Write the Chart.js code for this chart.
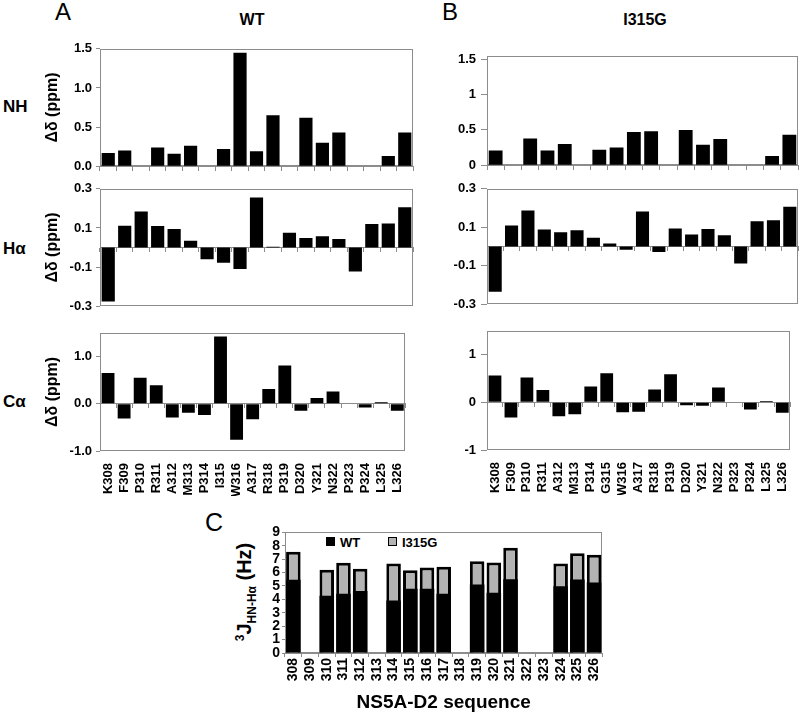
<!DOCTYPE html>
<html><head><meta charset="utf-8">
<script src="https://cdn.jsdelivr.net/npm/chart.js@4.4.1/dist/chart.umd.min.js"></script>
<style>
body{margin:0;background:#fff;width:800px;height:714px;position:relative;overflow:hidden;font-family:"Liberation Sans",Arial,sans-serif;}
canvas{position:absolute;}
.lbl{position:absolute;line-height:1;white-space:nowrap;color:#000;}
.b{font-weight:bold;}
</style></head><body>
<div class="lbl" style="left:55px;top:0px;font-size:24px;">A</div>
<div class="lbl" style="left:442px;top:0px;font-size:24px;">B</div>
<div class="lbl" style="left:205px;top:510px;font-size:25px;">C</div>
<div class="lbl b" style="left:252px;top:12px;font-size:16px;transform:translateX(-50%);">WT</div>
<div class="lbl b" style="left:645px;top:12px;font-size:16px;transform:translateX(-50%);">I315G</div>
<div class="lbl b" style="left:3px;top:98px;font-size:17px;">NH</div>
<div class="lbl b" style="left:3px;top:240px;font-size:17px;">Hα</div>
<div class="lbl b" style="left:3px;top:393px;font-size:17px;">Cα</div>
<div class="lbl b" style="left:246px;top:592px;font-size:20px;transform:translate(-50%,-50%) rotate(-90deg);"><sup style="font-size:12px;">3</sup>J<sub style="font-size:12px;">HN-Hα</sub> (Hz)</div>
<div id="legC" style="position:absolute;left:326px;top:536px;"></div>

<canvas id="aNH"></canvas><canvas id="aHa"></canvas><canvas id="aCa"></canvas>
<canvas id="bNH"></canvas><canvas id="bHa"></canvas><canvas id="bCa"></canvas>
<canvas id="cJ"></canvas>
<script>
// ---------- data ----------
const residuesWT = ['K308','F309','P310','R311','A312','M313','P314','I315','W316','A317','R318','P319','D320','Y321','N322','P323','P324','L325','L326'];
const residuesMut = ['K308','F309','P310','R311','A312','M313','P314','G315','W316','A317','R318','P319','D320','Y321','N322','P323','P324','L325','L326'];
const residuesMutNH = ['K308','P310','R311','A312','M313','P314','G315','W316','A317','R318','P319','D320','Y321','N322','P323','P324','L325','L326'];
const seqNumbers = ['308','309','310','311','312','313','314','315','316','317','318','319','320','321','322','323','324','325','326'];

const wtNH = [0.17,0.20,null,0.24,0.16,0.26,null,0.22,1.45,0.19,0.65,null,0.62,0.30,0.43,null,null,0.13,0.43];
const wtHa = [-0.276,0.111,0.184,0.110,0.095,0.035,-0.060,-0.078,-0.110,0.256,0.004,0.076,0.048,0.057,0.043,-0.123,0.120,0.123,0.206];
const wtCa = [0.65,-0.31,0.55,0.39,-0.29,-0.19,-0.24,1.42,-0.76,-0.33,0.31,0.81,-0.15,0.12,0.26,null,-0.08,0.03,-0.15];

const mutNH = [0.21,null,0.38,0.21,0.30,null,0.22,0.25,0.47,0.48,null,0.50,0.29,0.37,null,null,0.13,0.43];
const mutHa = [-0.235,0.109,0.187,0.088,0.074,0.084,0.045,0.015,-0.017,0.182,-0.028,0.093,0.063,0.091,0.058,-0.088,0.131,0.137,0.207];
const mutCa = [0.56,-0.32,0.52,0.26,-0.29,-0.25,0.33,0.61,-0.21,-0.20,0.27,0.59,-0.06,-0.07,0.31,null,-0.15,0.03,-0.22];

const jWT  = [5.46,null,4.27,4.42,4.62,null,3.92,4.79,4.79,4.42,null,5.11,4.49,5.51,null,null,4.99,5.49,5.27];
const jMut = [7.55,null,6.21,6.73,6.28,null,6.68,6.18,6.38,6.43,null,6.85,6.75,7.85,null,null,6.68,7.45,7.33];

const ticksNH = [0,0.5,1,1.5];
const ticksHa = [-0.3,-0.1,0.1,0.3];
const ticksCa = [-1,0,1];
const ticksJ = [0,1,2,3,4,5,6,7,8,9];
const seriesNames = ['WT','I315G'];

// ---------- drawing ----------
Chart.defaults.font.family = '"Liberation Sans", Arial, sans-serif';
Chart.defaults.color = '#000';
const GRAY = '#8c8c8c';
const framePlugin = {id:'frame', beforeDatasetsDraw(chart){
  const {ctx, chartArea:a} = chart;
  ctx.save(); ctx.strokeStyle = GRAY; ctx.lineWidth = 1;
  ctx.strokeRect(Math.round(a.left)+0.5, Math.round(a.top)+0.5, Math.round(a.right-a.left)-1, Math.round(a.bottom-a.top)-1);
  ctx.restore();
}};

function panel(o){
  const cv = document.getElementById(o.id);
  const plotW = o.R - o.L, plotH = o.B - o.T;
  const padT = 10, padR = 4, padB = 10;
  const W = o.axisW + plotW + padR;
  const H = padT + plotH + (o.xLabels ? o.labelH : padB);
  cv.width = W; cv.height = H;
  cv.style.left = (o.L - o.axisW) + 'px'; cv.style.top = (o.T - padT) + 'px';
  cv.style.width = W + 'px'; cv.style.height = H + 'px';
  const scales = {
    x:{type:'category', position:{y:0}, offset:true,
       grid:{offset:true, drawOnChartArea:false, drawTicks:true, tickLength:4, color:GRAY},
       border:{display:true, color:GRAY}, ticks:{display:false}},
    y:{min:o.min, max:o.max, position:'left',
       afterFit:s=>{s.width = o.axisW;},
       afterBuildTicks:s=>{s.ticks = o.ticks.map(v=>({value:v}));},
       grid:{drawOnChartArea:false, drawTicks:true, tickLength:o.tickLen, color:GRAY},
       border:{display:false},
       ticks:{autoSkip:false, font:{size:13, weight:'bold'}, color:'#000', padding:o.tickPad, callback:o.fmt},
       title: o.yTitle ? {display:true, text:o.yTitle, font:{size:16, weight:'bold'}, color:'#000', padding:{top:3,bottom:0}} : {display:false}}
  };
  if (o.xLabels){
    scales.xl = {type:'category', labels:o.labels, position:'bottom', offset:true,
      grid:{display:false}, border:{display:false},
      afterFit:s=>{s.height = o.labelH;},
      ticks:{autoSkip:false, maxRotation:90, minRotation:90, font:{size:13, weight:'bold'}, color:'#000', padding:4}};
  }
  new Chart(cv, {
    type:'bar',
    data:{labels:o.labels, datasets:[{data:o.data, backgroundColor:'#000', borderWidth:0, barPercentage:0.8, categoryPercentage:1}]},
    options:{responsive:false, animation:false, devicePixelRatio:1,
      layout:{padding:{top:padT, right:padR, bottom:o.xLabels?0:padB, left:0}},
      plugins:{legend:{display:false}, tooltip:{enabled:false}},
      scales},
    plugins:[framePlugin]
  });
}
const f1 = v => v.toFixed(1);
const f0 = v => String(v);

panel({id:'aNH', L:100,T:47,R:413,B:168, axisW:60, tickLen:4, tickPad:4, labels:residuesWT, data:wtNH, min:0,max:1.5, ticks:ticksNH, fmt:f1, yTitle:'Δδ (ppm)'});
panel({id:'aHa', L:100,T:187,R:413,B:308, axisW:60, tickLen:4, tickPad:4, labels:residuesWT, data:wtHa, min:-0.3,max:0.3, ticks:ticksHa, fmt:f1, yTitle:'Δδ (ppm)'});
panel({id:'aCa', L:100,T:331,R:413,B:451, axisW:60, tickLen:4, tickPad:4, labels:residuesWT, data:wtCa, min:-1,max:1.5, ticks:ticksCa, fmt:f1, yTitle:'Δδ (ppm)', xLabels:true, labelH:45});
panel({id:'bNH', L:487,T:53,R:798,B:168, axisW:45, tickLen:6, tickPad:5, labels:residuesMutNH, data:mutNH, min:0,max:1.55, ticks:ticksNH, fmt:f0});
panel({id:'bHa', L:487,T:186,R:798,B:307, axisW:45, tickLen:6, tickPad:5, labels:residuesMut, data:mutHa, min:-0.3,max:0.3, ticks:ticksHa, fmt:f1});
panel({id:'bCa', L:487,T:328,R:798,B:450, axisW:45, tickLen:6, tickPad:5, labels:residuesMut, data:mutCa, min:-1,max:1.5, ticks:ticksCa, fmt:f0, xLabels:true, labelH:45});

// panel C
(function(){
  const cv = document.getElementById('cJ');
  const L=285,T=532,R=607,B=653, axisW=30, padT=10, padR=5, labelH=61;
  const W = axisW + (R-L) + padR, H = padT + (B-T) + labelH;
  cv.width = W; cv.height = H;
  cv.style.left = (L-axisW)+'px'; cv.style.top = (T-padT)+'px';
  cv.style.width = W+'px'; cv.style.height = H+'px';
  const colors = ['#000000','#b3b3b3'];
  new Chart(cv, {
    type:'bar',
    data:{labels:seqNumbers, datasets:[
      {label:seriesNames[0], data:jWT, backgroundColor:colors[0], borderWidth:0, barPercentage:0.87, categoryPercentage:1},
      {label:seriesNames[1], data:jMut, backgroundColor:colors[1], borderColor:'#000', borderWidth:3, barPercentage:0.87, categoryPercentage:1}
    ]},
    options:{responsive:false, animation:false, devicePixelRatio:1,
      layout:{padding:{top:padT, right:padR, bottom:0, left:0}},
      plugins:{legend:{display:false}, tooltip:{enabled:false}},
      scales:{
        x:{stacked:true, offset:true, position:'bottom',
           grid:{offset:true, drawOnChartArea:false, tickLength:4, color:GRAY},
           border:{display:true, color:GRAY},
           afterFit:s=>{s.height = labelH;},
           ticks:{autoSkip:false, maxRotation:90, minRotation:90, font:{size:14, weight:'bold'}, color:'#000', padding:1},
           title:{display:true, text:'NS5A-D2 sequence', font:{size:19, weight:'bold'}, color:'#000', padding:{top:0,bottom:0}}},
        y:{stacked:false, min:0, max:9,
           afterFit:s=>{s.width = axisW;},
           afterBuildTicks:s=>{s.ticks = ticksJ.map(v=>({value:v}));},
           grid:{drawOnChartArea:false, tickLength:3, color:GRAY},
           border:{display:false},
           ticks:{autoSkip:false, font:{size:14, weight:'bold'}, color:'#000', padding:2}}
      }},
    plugins:[framePlugin]
  });
  // legend built from series names/colors
  const leg = document.getElementById('legC');
  const offs = [0, 62];
  seriesNames.forEach((n,i)=>{
    const sw = document.createElement('div');
    sw.style.cssText = `position:absolute;left:${offs[i]}px;top:1px;width:${i?7:9}px;height:${i?7:9}px;background:${colors[i]};border:${i?'1px solid #000':'none'};`;
    const t = document.createElement('div');
    t.className = 'lbl b';
    t.style.cssText += `left:${offs[i]+14}px;top:0px;font-size:13px;`;
    t.textContent = n;
    leg.appendChild(sw); leg.appendChild(t);
  });
})();
</script>
</body></html>
